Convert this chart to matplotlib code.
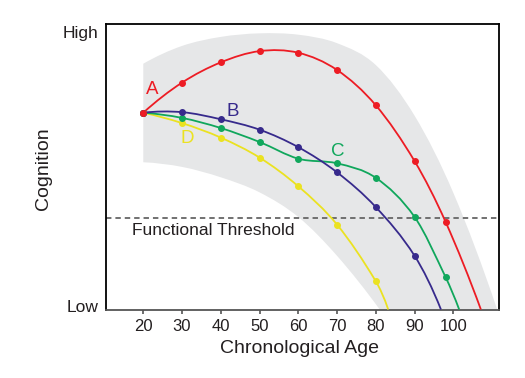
import numpy as np
import matplotlib
matplotlib.use('Agg')
import matplotlib.pyplot as plt
from matplotlib.path import Path
from matplotlib.patches import PathPatch

plt.rcParams['font.family'] = ['Liberation Sans', 'DejaVu Sans']

# curves (last point of each = where it meets the x axis)
ages_a = [20, 30, 40, 50, 60, 70, 80, 90, 98, 107.1]
cog_a = [70.6, 81.6, 89.0, 93.1, 92.5, 86.2, 73.3, 52.9, 30.7, -1.3]
ages_b = [20, 30, 40, 50, 60, 70, 80, 90, 96.8]
cog_b = [70.6, 70.8, 68.2, 64.4, 58.0, 48.8, 36.1, 18.3, -1.3]
ages_c = [20, 30, 40, 50, 60, 70, 80, 90, 98, 101.5]
cog_c = [70.6, 68.7, 65.0, 59.9, 53.8, 52.1, 46.8, 32.5, 10.5, -1.3]
ages_d = [20, 30, 40, 50, 60, 70, 80, 83.2]
cog_d = [70.6, 66.8, 61.5, 54.2, 43.7, 29.7, 9.0, -1.3]

# grey envelope
band_top_age = [20, 30, 40, 50, 60, 70, 80, 90, 100, 111.3]
band_top = [88.5, 95.0, 98.3, 99.6, 99.1, 96.0, 88.0, 69.5, 41.3, -1.3]
band_low_age = [20, 30, 40, 50, 60, 70, 81.0]
band_low = [52.5, 50.8, 47.0, 41.5, 32.5, 18.3, -1.3]

threshold = 32.0
xticks = [20, 30, 40, 50, 60, 70, 80, 90, 100]

RED = '#ed1c24'
BLUE = '#372a8c'
GREEN = '#10a75c'
YELLOW = '#ebe221'
TXT = '#231f20'


def smooth(x, y):
    # hermite through the points, turned into bezier segments
    x = np.asarray(x, float)
    y = np.asarray(y, float)
    d = np.diff(y) / np.diff(x)
    m = np.empty_like(x)
    m[1:-1] = (y[2:] - y[:-2]) / (x[2:] - x[:-2])
    m[0] = 2 * d[0] - m[1]
    m[-1] = 2 * d[-1] - m[-2]
    verts = [(x[0], y[0])]
    for i in range(len(x) - 1):
        h = x[i + 1] - x[i]
        verts += [(x[i] + h / 3, y[i] + m[i] * h / 3),
                  (x[i + 1] - h / 3, y[i + 1] - m[i + 1] * h / 3),
                  (x[i + 1], y[i + 1])]
    return verts


fig = plt.figure(figsize=(5.25, 3.78), dpi=100)
ax = fig.add_axes([0.2013, 0.1812, 0.7501, 0.7545])
ax.set_xlim(10.3, 111.9)
ax.set_ylim(-1.3, 102.9)

# band
top = smooth(band_top_age, band_top)
low = smooth(band_low_age, band_low)[::-1]
verts = top + low + [top[0]]
codes = [Path.MOVETO] + [Path.CURVE4] * (len(top) - 1) + [Path.LINETO] + \
        [Path.CURVE4] * (len(low) - 1) + [Path.CLOSEPOLY]
ax.add_patch(PathPatch(Path(verts, codes), facecolor='#e6e7e8', edgecolor='none', zorder=1))

ax.axhline(threshold, color='#666666', lw=1.3, ls=(0, (3, 2.2)), zorder=2)

for ages, cog, col in [(ages_d, cog_d, YELLOW), (ages_c, cog_c, GREEN),
                       (ages_b, cog_b, BLUE), (ages_a, cog_a, RED)]:
    v = smooth(ages, cog)
    p = Path(v, [Path.MOVETO] + [Path.CURVE4] * (len(v) - 1))
    ax.add_patch(PathPatch(p, facecolor='none', edgecolor=col, lw=1.3, zorder=3))
    ax.plot(ages[:-1], cog[:-1], 'o', color=col, ms=4, zorder=4)

ax.text(22.4, 78.9, 'A', color=RED, fontsize=13.5, ha='center', va='center')
ax.text(43.1, 71.0, 'B', color=BLUE, fontsize=13.5, ha='center', va='center')
ax.text(70.1, 56.4, 'C', color=GREEN, fontsize=13.5, ha='center', va='center')
ax.text(31.4, 61.0, 'D', color=YELLOW, fontsize=13.5, ha='center', va='center')
ax.text(17.1, 27.7, 'Functional Threshold', color=TXT, fontsize=12.5, ha='left', va='center')

for s in ['left', 'top', 'right']:
    ax.spines[s].set_color('black')
    ax.spines[s].set_linewidth(1.3)
ax.spines['bottom'].set_color('#555555')
ax.spines['bottom'].set_linewidth(1.3)

ax.set_xticks(xticks)
ax.tick_params(axis='x', direction='out', length=3, width=1.2, color='#555555',
               labelsize=12, labelcolor=TXT, pad=4)
ax.set_yticks([0, 100])
ax.set_yticklabels(['Low', 'High'])
ax.tick_params(axis='y', length=0, labelsize=12.5, labelcolor=TXT, pad=5)

ax.set_xlabel('Chronological Age', fontsize=14, color=TXT)
ax.xaxis.set_label_coords(0.493, -0.107)
ax.set_ylabel('Cognition', fontsize=14, color=TXT)
ax.yaxis.set_label_coords(-0.136, 0.493)

fig.savefig('out.png', dpi=100)
